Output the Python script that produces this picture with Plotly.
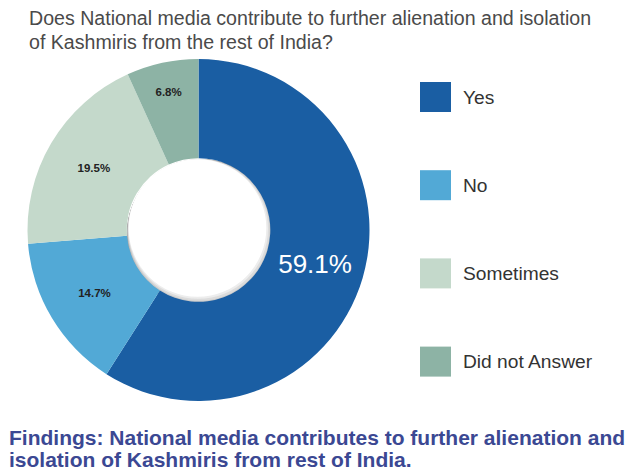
import plotly.graph_objects as go

categories = ["Yes", "No", "Sometimes", "Did not Answer"]
values = [59.1, 14.7, 19.5, 6.8]
colors = ["#1a5ea3", "#52a9d6", "#c4d9cb", "#8db3a5"]

title_lines = [
    "Does National media contribute to further alienation and isolation",
    "of Kashmiris from the rest of India?",
]
findings_lines = [
    "Findings: National media contributes to further alienation and",
    "isolation of Kashmiris from rest of India.",
]

W, H = 631, 470
FONT = "Liberation Sans, Arial, Helvetica, sans-serif"
HOLE = 0.42
PIE_X = (27, 370)
PIE_Y = (59, 401)

texts = []
for i, v in enumerate(values):
    s = f"{v:.1f}%"
    texts.append(s if i == 0 else f"<b>{s}</b>")

fig = go.Figure()
fig.add_trace(go.Pie(
    labels=categories,
    values=values,
    text=texts,
    textinfo="text",
    textposition="inside",
    insidetextorientation="horizontal",
    textfont=dict(family=FONT, size=[26, 11.5, 11.5, 11.5],
                  color=["#ffffff", "#222222", "#222222", "#222222"]),
    marker=dict(colors=colors, line=dict(width=0)),
    hole=HOLE,
    sort=False,
    direction="clockwise",
    rotation=0,
    showlegend=False,
    domain=dict(x=[PIE_X[0] / W, PIE_X[1] / W], y=[1 - PIE_Y[1] / H, 1 - PIE_Y[0] / H]),
    hoverinfo="label+percent",
))

annotations = []
shapes = []

# soft inner shadow of the hole (decoration drawn beneath the pie, visible only through the hole)
cx = (PIE_X[0] + PIE_X[1]) / 2
cy0 = (PIE_Y[0] + PIE_Y[1]) / 2
r = HOLE * (PIE_Y[1] - PIE_Y[0]) / 2
steps = 7
for k in range(steps):
    t = k / (steps - 1)
    g = int(150 + (255 - 150) * t)
    rr = r + 3 - 6 * t
    ox = 3 - 4 * t
    oy = 4 - 6 * t
    shapes.append(dict(type="circle", xref="paper", yref="paper", layer="below",
                       x0=(cx - rr + ox) / W, x1=(cx + rr + ox) / W,
                       y0=1 - (cy0 + rr + oy) / H, y1=1 - (cy0 - rr + oy) / H,
                       fillcolor=f"rgb({g},{g},{g})", line=dict(width=0)))

# title
for k, line in enumerate(title_lines):
    annotations.append(dict(
        text=line, x=27 / W, y=1 - (18 + 24 * k) / H, xref="paper", yref="paper",
        xanchor="left", yanchor="middle", showarrow=False,
        font=dict(family=FONT, size=19.6, color="#4a4a4a")))
# findings
for k, line in enumerate(findings_lines):
    annotations.append(dict(
        text=f"<b>{line}</b>", x=7 / W, y=1 - (437 + 22 * k) / H, xref="paper", yref="paper",
        xanchor="left", yanchor="middle", showarrow=False,
        font=dict(family=FONT, size=21, color="#3b4893")))
# custom legend
for k, (cat, col) in enumerate(zip(categories, colors)):
    cy = 97 + 88.2 * k
    shapes.append(dict(type="rect", xref="paper", yref="paper",
                       x0=420 / W, x1=451 / W, y0=1 - (cy + 15) / H, y1=1 - (cy - 15) / H,
                       fillcolor=col, line=dict(width=0)))
    annotations.append(dict(
        text=cat, x=461 / W, y=1 - cy / H, xref="paper", yref="paper",
        xanchor="left", yanchor="middle", showarrow=False,
        font=dict(family=FONT, size=19.2, color="#333333")))

fig.update_layout(
    width=W, height=H,
    margin=dict(l=0, r=0, t=0, b=0),
    paper_bgcolor="#ffffff", plot_bgcolor="#ffffff",
    annotations=annotations, shapes=shapes,
)

fig.write_html("out.html")
